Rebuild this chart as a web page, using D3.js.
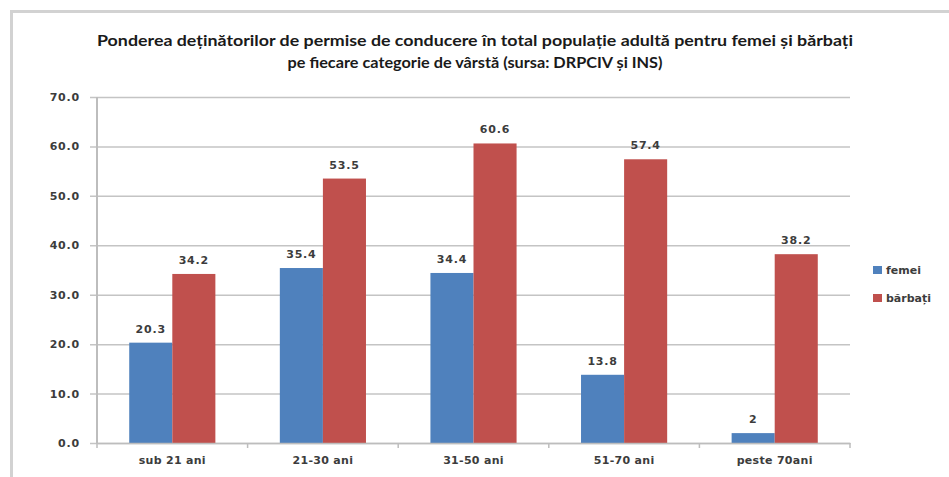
<!DOCTYPE html>
<html>
<head>
<meta charset="utf-8">
<script src="https://cdn.jsdelivr.net/npm/d3@7"></script>
<style>
  html, body { margin: 0; padding: 0; background: #fff; }
  svg { display: block; }
</style>
</head>
<body>
<svg id="chart" width="949" height="477"></svg>
<script>
// Age groups and shares (%) of licence holders in the adult population
const categories = ["sub 21 ani", "21-30 ani", "31-50 ani", "51-70 ani", "peste 70ani"];
const femei   = [20.3, 35.4, 34.4, 13.8, 2];
const barbati = [34.2, 53.5, 60.6, 57.4, 38.2];
const valueLabels = { femei: ["20.3", "35.4", "34.4", "13.8", "2"],
                      barbati: ["34.2", "53.5", "60.6", "57.4", "38.2"] };
const yTicks = [0, 10, 20, 30, 40, 50, 60, 70];
const seriesNames = ["femei", "bărbați"];
const colors = ["#4F81BD", "#C0504D"];
const titleLines = [
  "Ponderea deținătorilor de permise de conducere în total populație adultă pentru femei și bărbați",
  "pe fiecare categorie de vârstă (sursa: DRPCIV și INS)"
];

const svg = d3.select("#chart");
const W = 949, H = 477;
const plot = { left: 97, right: 850, top: 97, bottom: 443 };

// frame
svg.append("line").attr("x1", 10).attr("x2", W).attr("y1", 11.5).attr("y2", 11.5)
  .attr("stroke", "#d2d2d2").attr("stroke-width", 3);
svg.append("line").attr("x1", 11.5).attr("x2", 11.5).attr("y1", 10).attr("y2", H)
  .attr("stroke", "#d2d2d2").attr("stroke-width", 3);

// title
const titleFont = "Lato, 'Open Sans', sans-serif";
svg.append("text").attr("x", 475).attr("y", 46).attr("text-anchor", "middle")
  .attr("font-family", titleFont).attr("font-weight", "bold").attr("font-size", 16)
  .attr("fill", "#1a1a1a").attr("textLength", 756).attr("lengthAdjust", "spacingAndGlyphs")
  .text(titleLines[0]);
svg.append("text").attr("x", 475).attr("y", 68).attr("text-anchor", "middle")
  .attr("font-family", titleFont).attr("font-weight", "bold").attr("font-size", 16)
  .attr("fill", "#1a1a1a").attr("textLength", 375).attr("lengthAdjust", "spacingAndGlyphs")
  .text(titleLines[1]);

const x = d3.scaleBand().domain(categories).range([plot.left, plot.right]).padding(0);
const y = d3.scaleLinear().domain([0, 70]).range([plot.bottom, plot.top]);
const barW = x.bandwidth() * 0.286;
const sub = d3.scaleBand().domain([0, 1]).range([0, barW * 2]);

const labelFont = "'DejaVu Sans', Verdana, sans-serif";

// gridlines + y axis
const yAxis = d3.axisLeft(y).tickValues(yTicks).tickFormat(d3.format(".1f"))
  .tickSize(0).tickPadding(10);
const gy = svg.append("g").attr("transform", `translate(${plot.left - 7},0)`).call(yAxis);
gy.select(".domain").remove();
gy.selectAll(".tick line").attr("stroke", "#c4c4c4").attr("stroke-width", 1.5)
  .attr("x1", 0).attr("x2", plot.right - plot.left + 7);
gy.selectAll(".tick text").attr("font-family", labelFont).attr("font-weight", "bold")
  .attr("font-size", 11).attr("letter-spacing", 0.8).attr("fill", "#3c3c3c")
  .attr("x", -10);

// vertical axis line
svg.append("line").attr("x1", plot.left).attr("x2", plot.left)
  .attr("y1", plot.top).attr("y2", plot.bottom).attr("stroke", "#bdbdbd").attr("stroke-width", 2);

// bars and value labels
const data = [femei, barbati];
const labels = [valueLabels.femei, valueLabels.barbati];
const barX = (i, s) => x(categories[i]) + (x.bandwidth() - barW * 2) / 2 + sub(s);
data.forEach((vals, s) => {
  const g = svg.append("g");
  g.selectAll("rect").data(vals).join("rect")
    .attr("x", (d, i) => barX(i, s))
    .attr("width", sub.bandwidth())
    .attr("y", d => y(d))
    .attr("height", d => y(0) - y(d))
    .attr("fill", colors[s]);
  g.selectAll("text").data(vals).join("text")
    .attr("x", (d, i) => barX(i, s) + sub.bandwidth() / 2)
    .attr("y", d => y(d) - 10)
    .attr("text-anchor", "middle")
    .attr("font-family", labelFont).attr("font-weight", "bold").attr("font-size", 11)
    .attr("letter-spacing", 0.8).attr("fill", "#3c3c3c")
    .text((d, i) => labels[s][i]);
});

// x axis
const xAxis = d3.axisBottom(x).tickSize(0).tickPadding(13);
const gx = svg.append("g").attr("transform", `translate(0,${plot.bottom})`).call(xAxis);
gx.select(".domain").attr("stroke", "#bdbdbd").attr("stroke-width", 1.5);
gx.selectAll(".tick text").attr("font-family", labelFont).attr("font-weight", "bold")
  .attr("font-size", 11).attr("letter-spacing", 0.3).attr("fill", "#3c3c3c");
// boundary ticks between categories
const bounds = categories.map(c => x(c)).concat([plot.right]);
svg.append("g").selectAll("line").data(bounds).join("line")
  .attr("x1", d => d).attr("x2", d => d)
  .attr("y1", plot.bottom).attr("y2", plot.bottom + 5)
  .attr("stroke", "#bdbdbd").attr("stroke-width", 1.5);

// legend
const legend = svg.append("g").attr("transform", "translate(873,270)");
seriesNames.forEach((n, i) => {
  legend.append("rect").attr("x", 0).attr("y", i * 28 - 4).attr("width", 9).attr("height", 8)
    .attr("fill", colors[i]);
  legend.append("text").attr("x", 13).attr("y", i * 28 + 4)
    .attr("font-family", labelFont).attr("font-weight", "bold").attr("font-size", 11)
    .attr("fill", "#3c3c3c").text(n);
});
</script>
</body>
</html>
